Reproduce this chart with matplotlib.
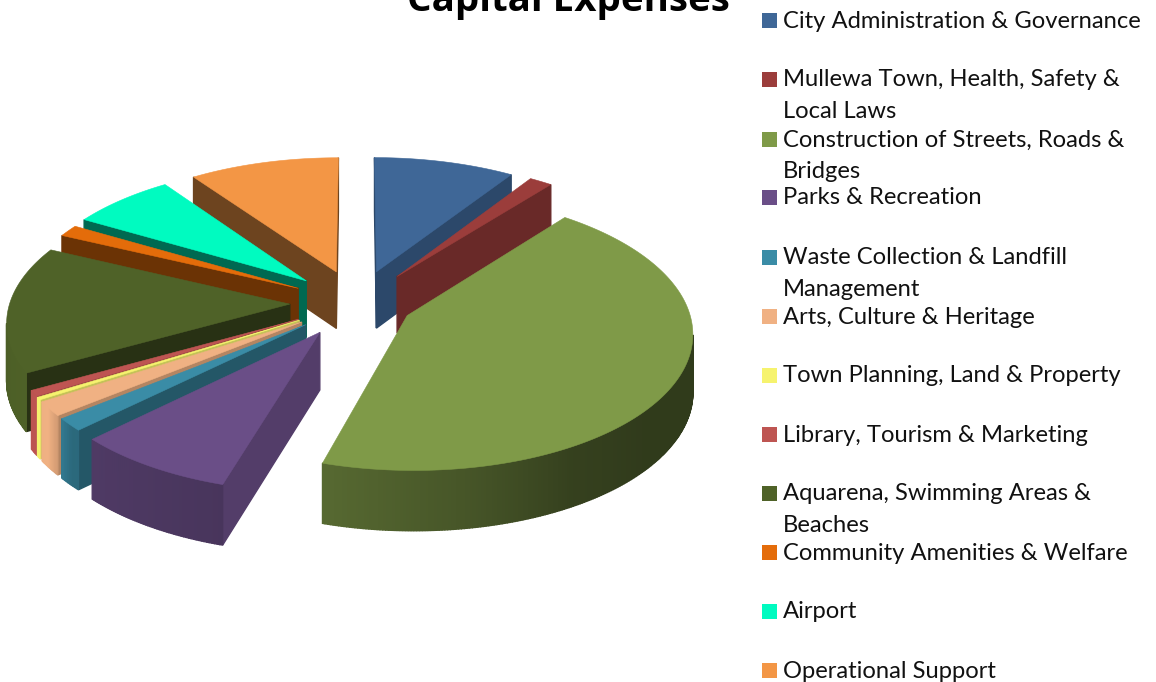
import numpy as np
import matplotlib
matplotlib.use("Agg")
import matplotlib.pyplot as plt
from matplotlib.patches import Rectangle

title = "Capital Expenses"
categories = ["City Administration & Governance",
              "Mullewa Town, Health, Safety &\nLocal Laws",
              "Construction of Streets, Roads &\nBridges",
              "Parks & Recreation",
              "Waste Collection & Landfill\nManagement",
              "Arts, Culture & Heritage",
              "Town Planning, Land & Property",
              "Library, Tourism & Marketing",
              "Aquarena, Swimming Areas &\nBeaches",
              "Community Amenities & Welfare",
              "Airport",
              "Operational Support"]
shares = [9.2, 1.5, 43.8, 8.1, 1.5, 1.7, 0.3, 0.7, 15.0, 1.4, 6.8, 9.8]

colors = ["#3F6797", "#9B3D3B", "#7F9A48", "#6A4E87", "#3A8CA6", "#F0B183",
          "#F6F36E", "#BE5552", "#4F6228", "#E46C0A", "#00FBC0", "#F39645"]
explode = [0.25, 0.25, 0.20, 0.25, 0.24, 0.24, 0.24, 0.24, 0.24, 0.24, 0.25, 0.25]
radial_shade = [0.70, 0.68, 0.60, 0.78, 0.62, 0.75, 0.8, 0.75, 0.50, 0.47, 0.42, 0.45]
draw_order = [0, 1, 11, 10, 9, 8, 7, 6, 5, 4, 3, 2]
legend_y = [20, 79, 139, 197, 257, 316, 375, 434, 493, 552, 611, 670]

# projection of the pie plane, in image pixels
CX, CY = 357, 303
RX, RY = 280, 134
PERSP = 0.115
HEIGHT = 57


def project(u, v, drop=0.0):
    w = 1 - PERSP * v
    return CX + RX * u / w, CY + RY * v / w + drop / (1 - 0.05 * v)


def wall_shade(theta):
    return np.interp(theta, [90, 130, 150, 170, 196, 228, 235, 270, 360],
                     [0.38, 0.38, 0.42, 0.55, 0.68, 0.75, 1.0, 0.95, 0.9])


def shaded(color, f):
    return tuple(np.array(matplotlib.colors.to_rgb(color)) * f)


def quad(ax, p, q, color):
    x1, y1 = project(*p)
    x2, y2 = project(*q)
    x3, y3 = project(*q, HEIGHT)
    x4, y4 = project(*p, HEIGHT)
    ax.fill([x1, x2, x3, x4], [y1, y2, y3, y4], color=color, lw=1.0)


def draw_slice(ax, t0, t1, color, e, rshade):
    mid = np.radians((t0 + t1) / 2)
    ou, ov = e * np.sin(mid), -e * np.cos(mid)
    t = np.linspace(t0, t1, max(int(t1 - t0) * 2, 2) + 1)
    us = ou + np.sin(np.radians(t))
    vs = ov - np.cos(np.radians(t))
    apex = (ou, ov)
    first = (us[0], vs[0])
    last = (us[-1], vs[-1])
    # only walls whose top edge runs leftwards on screen face the viewer
    if project(*first)[0] < project(*apex)[0]:
        quad(ax, apex, first, shaded(color, rshade))
    if project(*apex)[0] < project(*last)[0]:
        quad(ax, last, apex, shaded(color, rshade))
    for i in range(len(t) - 1):
        p, q = (us[i], vs[i]), (us[i + 1], vs[i + 1])
        if project(*q)[0] < project(*p)[0]:
            quad(ax, p, q, shaded(color, wall_shade((t[i] + t[i + 1]) / 2)))
    top_x, top_y = project(np.r_[ou, us], np.r_[ov, vs])
    ax.fill(top_x, top_y, color=color, lw=0.4)


fig = plt.figure(figsize=(11.56, 6.82), dpi=100)
ax = fig.add_axes([0, 0, 1, 1])
ax.set_xlim(0, 1156)
ax.set_ylim(682, 0)
ax.axis("off")

edges = np.r_[0, np.cumsum(shares)] / np.sum(shares) * 360
for i in draw_order:
    draw_slice(ax, edges[i], edges[i + 1], colors[i], explode[i], radial_shade[i])

ax.text(568, 11, title, ha="center", va="baseline", family="Open Sans",
        fontweight="bold", fontsize=27.7, color="black")

for name, y, c in zip(categories, legend_y, colors):
    ax.add_patch(Rectangle((762, y - 7.5), 15, 15, color=c, lw=0))
    for k, line in enumerate(name.split("\n")):
        ax.text(783, y + 1 + k * 31, line, va="center", ha="left", family="Lato",
                fontsize=17.1, color="#111111")

fig.savefig("out.png", dpi=100)
